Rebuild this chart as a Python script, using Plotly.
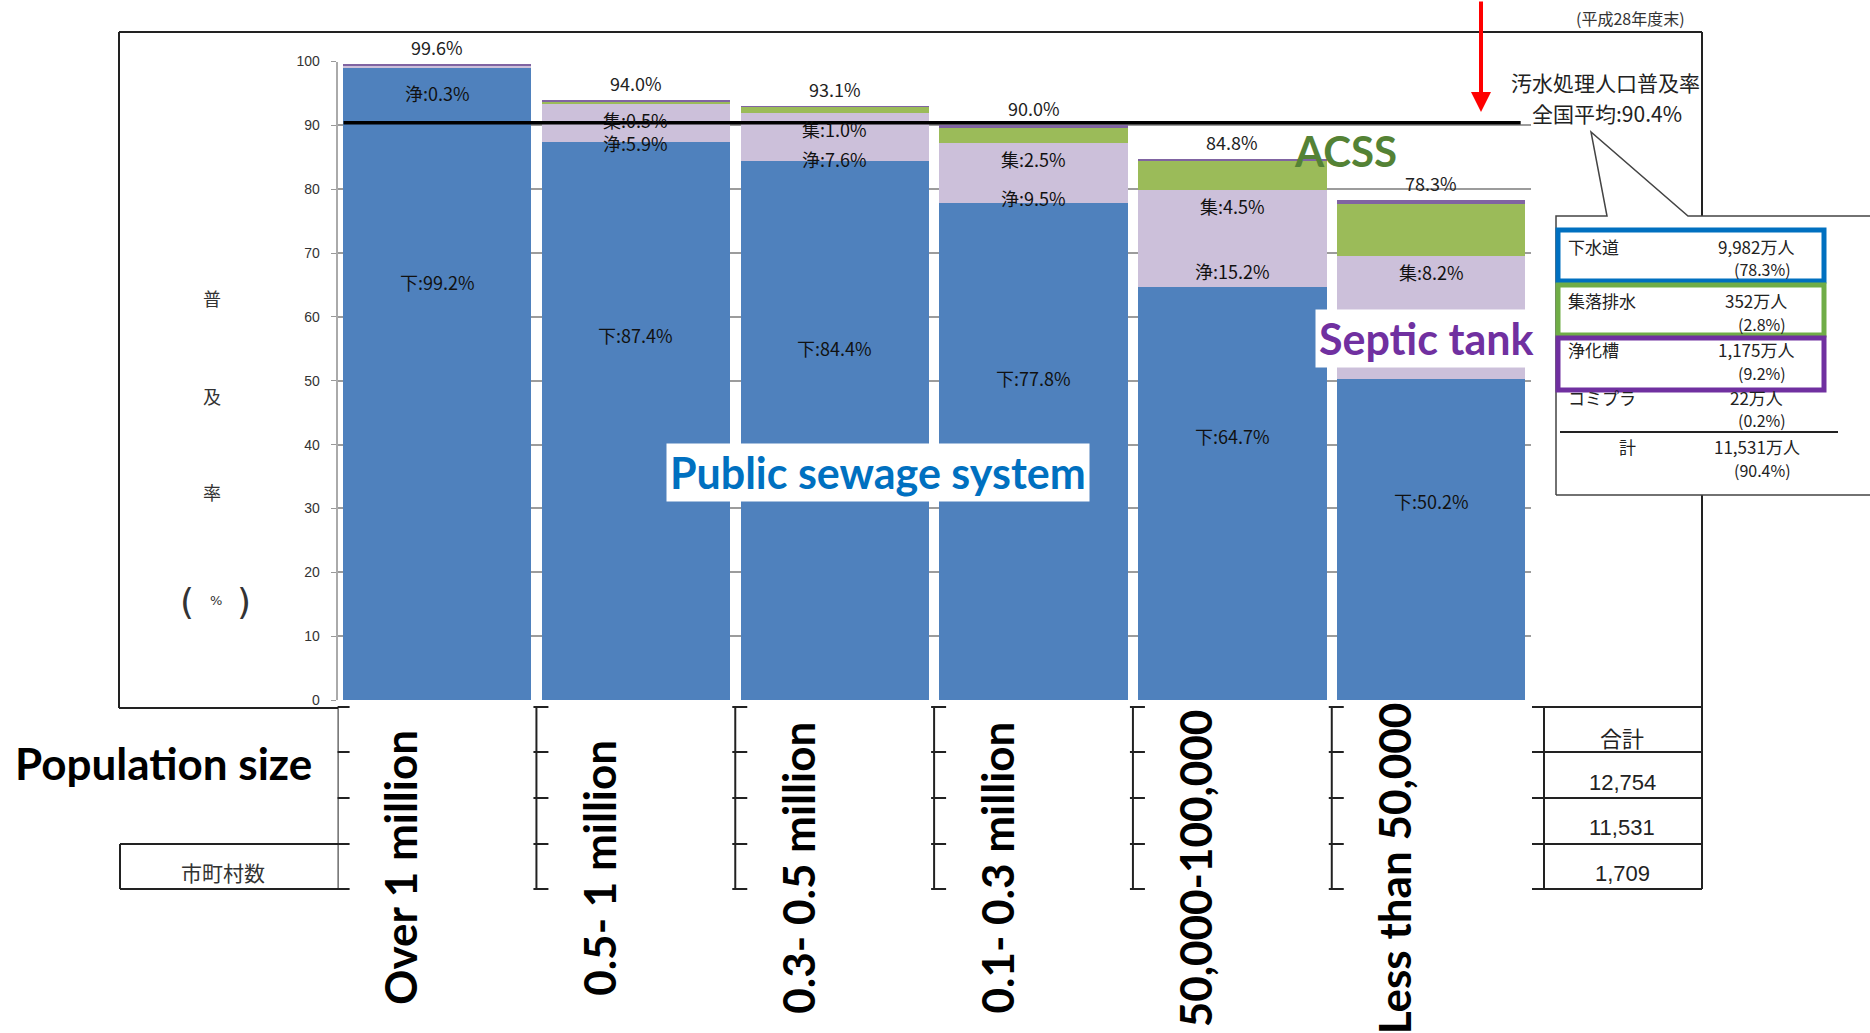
import plotly.graph_objects as go

W, H = 1870, 1033

# Coverage rate of wastewater treatment by municipal population size (%)
categories = ["Over 1 million", "0.5- 1 million", "0.3- 0.5 million",
              "0.1- 0.3 million", "50,000-100,000", "Less than 50,000"]
sewer = [99.2, 87.4, 84.4, 77.8, 64.7, 50.2]        # 下水道
septic = [0.3, 5.9, 7.6, 9.5, 15.2, 19.3]           # 浄化槽
acss = [0.0, 0.5, 1.0, 2.5, 4.5, 8.2]               # 農業集落排水
community = [0.1, 0.2, 0.1, 0.2, 0.4, 0.6]          # コミュニティプラント
total = [99.6, 94.0, 93.1, 90.0, 84.8, 78.3]
national_avg = 90.4

y_ticks = [0, 10, 20, 30, 40, 50, 60, 70, 80, 90, 100]

# National summary box
summary_names = ["下水道", "集落排水", "浄化槽", "コミプラ"]
summary_people = ["9,982万人", "352万人", "1,175万人", "22万人"]
summary_rates = ["(78.3%)", "(2.8%)", "(9.2%)", "(0.2%)"]
summary_total = ["計", "11,531万人", "(90.4%)"]

# Totals column of the table under the chart
table_header = "合計"
table_totals = ["12,754", "11,531", "1,709"]


def px(x):
    return x / W


def py(y):
    return 1 - y / H


JP = "Noto Sans CJK JP"
EN = "Lato"

fig = go.Figure()
series = [("下水道", sewer, "#4F81BD"), ("浄化槽", septic, "#CCC0DA"),
          ("農業集落排水", acss, "#9BBB59"), ("コミプラ", community, "#8064A2")]
for name, vals, color in series:
    fig.add_trace(go.Bar(x=categories, y=vals, name=name,
                         marker=dict(color=color, line=dict(width=0)),
                         hoverinfo="skip"))

ann = []


def text_at(x, y, text, size, color="#222", family=JP, xanchor="center"):
    ann.append(dict(x=px(x), y=py(y), xref="paper", yref="paper", text=text,
                    showarrow=False, xanchor=xanchor, yanchor="middle",
                    font=dict(family=family, size=size, color=color)))


# Segment and total labels on the bars
last = len(categories) - 1
for i, c in enumerate(categories):
    ann.append(dict(x=c, y=total[i], xref="x", yref="y", text=f"{total[i]:.1f}%",
                    showarrow=False, yanchor="bottom", yshift=2,
                    font=dict(family=JP, size=18, color="#222")))
    ann.append(dict(x=c, y=0.7 * sewer[i] - 4, xref="x", yref="y",
                    text=f"下:{sewer[i]:.1f}%", showarrow=False,
                    font=dict(family=JP, size=18, color="#111")))
    # the septic label of the smallest class sits under the "Septic tank" caption
    if i != last:
        if septic[i] >= 1:
            y_sep = sewer[i] + 0.3 * septic[i] - 2
        else:
            y_sep = total[i] - 4.5
        ann.append(dict(x=c, y=y_sep, xref="x", yref="y",
                        text=f"浄:{septic[i]:.1f}%", showarrow=False,
                        font=dict(family=JP, size=18, color="#111")))
    if acss[i] > 0:
        ann.append(dict(x=c, y=sewer[i] + septic[i] - 2.5, xref="x", yref="y",
                        text=f"集:{acss[i]:.1f}%", showarrow=False,
                        font=dict(family=JP, size=18, color="#111")))
    # rotated category names beneath the axis
    ann.append(dict(x=c, y=py(868), xref="x", yref="paper", text=c,
                    textangle=-90, showarrow=False, xshift=-37,
                    xanchor="center", yanchor="middle",
                    font=dict(family=EN, size=44, color="black", weight="bold")))

# Vertical axis title
text_at(212, 298, "普", 18, "#333")
text_at(212, 396, "及", 18, "#333")
text_at(212, 492, "率", 18, "#333")
text_at(187, 601, "(", 36, "#333", family="DejaVu Sans")
text_at(216, 600, "%", 13, "#333", family="DejaVu Sans")
text_at(244, 601, ")", 36, "#333", family="DejaVu Sans")

# National average notes
text_at(1630, 18, "(平成28年度末)", 16, "#333")
text_at(1509, 82, "汚水処理人口普及率", 21, "#222", xanchor="left")
text_at(1607, 113, f"全国平均:{national_avg}%", 21, "#222")

# Summary box contents
name_y = [246, 300, 350, 397]
rate_y = [269, 324, 373, 420]
for n, p, r, yn, yr in zip(summary_names, summary_people, summary_rates, name_y, rate_y):
    text_at(1566, yn, n, 17, "#222", xanchor="left")
    text_at(1756, yn, p, 17, "#222")
    text_at(1762, yr, r, 16, "#222")
text_at(1627, 447, summary_total[0], 17, "#222")
text_at(1757, 447, summary_total[1], 17, "#222")
text_at(1762, 470, summary_total[2], 16, "#222")

# Table captions
ann.append(dict(x=px(13), y=py(763), xref="paper", yref="paper", text="Population size",
                showarrow=False, xanchor="left", yanchor="middle",
                font=dict(family=EN, size=44, color="black", weight="bold")))
text_at(223, 872, "市町村数", 21, "#333")
text_at(1622, 737, table_header, 22, "#222")
for v, yy in zip(table_totals, [782, 827, 873]):
    text_at(1622, yy, v, 22, "#222", family="Liberation Sans")

# Highlighted labels
for label, x, y, size, color, bg in [("Public sewage system", 878, 472, 43, "#0070C0", "white"),
                                     ("ACSS", 1345, 151, 42, "#548235", None),
                                     ("Septic tank", 1426, 338, 43, "#7030A0", "white")]:
    d = dict(x=px(x), y=py(y), xref="paper", yref="paper", text=label,
             showarrow=False, xanchor="center", yanchor="middle", borderpad=3,
             font=dict(family=EN, size=size, color=color, weight="bold"))
    if bg:
        d["bgcolor"] = bg
    ann.append(d)

# Red arrow pointing at the national average line
ann.append(dict(x=px(1481), y=py(112), xref="paper", yref="paper", text="",
                showarrow=True, ax=0, ay=-112, arrowcolor="#FF0000",
                arrowwidth=4, arrowhead=2, arrowsize=1))

shapes = []


def line(x0, y0, x1, y1, color="#222", width=2):
    shapes.append(dict(type="line", xref="paper", yref="paper",
                       x0=px(x0), y0=py(y0), x1=px(x1), y1=py(y1),
                       line=dict(color=color, width=width)))


# Outer frame
line(119, 32, 1702, 32)
line(119, 32, 119, 708)
line(119, 708, 338, 708)
line(1702, 32, 1702, 216)
line(1702, 495, 1702, 889)
# 市町村数 cell
line(120, 844, 338, 844)
line(120, 889, 338, 889)
line(120, 844, 120, 889)

# Column separators of the table under each category
row_lines = [707, 752, 798, 844, 889]
for i in range(len(categories)):
    b = i - 0.5
    shapes.append(dict(type="line", xref="x", yref="paper", x0=b, x1=b,
                       y0=py(707), y1=py(889), line=dict(color="#222", width=2)))
    for t in row_lines:
        shapes.append(dict(type="line", xref="x", xsizemode="pixel", xanchor=b,
                           x0=-3, x1=12, yref="paper", y0=py(t), y1=py(t),
                           line=dict(color="#222", width=2)))
# Totals column
for t in row_lines:
    line(1532, t, 1702, t)
line(1544, 707, 1544, 889)

# National average line
shapes.append(dict(type="line", xref="x", yref="y", x0=-0.47, x1=5.45,
                   y0=national_avg, y1=national_avg,
                   line=dict(color="black", width=3.5)))

# Callout box
path = (f"M {px(1556)},{py(495)} L {px(1556)},{py(216)} L {px(1607)},{py(216)} "
        f"L {px(1591)},{py(132)} L {px(1688)},{py(216)} L {px(1875)},{py(216)} "
        f"M {px(1556)},{py(495)} L {px(1875)},{py(495)}")
shapes.append(dict(type="path", xref="paper", yref="paper", path=path,
                   line=dict(color="#444", width=1.5)))
line(1560, 432, 1838, 432, "#222", 1.8)
for (y0, y1), color in zip([(230, 281), (285, 335), (338, 390)],
                           ["#0070C0", "#70AD47", "#7030A0"]):
    shapes.append(dict(type="rect", xref="paper", yref="paper",
                       x0=px(1558), x1=px(1824), y0=py(y0), y1=py(y1),
                       line=dict(color=color, width=5)))

fig.update_layout(
    width=W, height=H, margin=dict(l=0, r=0, t=0, b=0),
    paper_bgcolor="white", plot_bgcolor="white",
    barmode="stack", bargap=0.053, showlegend=False,
    xaxis=dict(domain=[px(337.6), px(1530.6)], range=[-0.5, 5.5],
               showticklabels=False, showline=False, ticks="",
               showgrid=False, zeroline=False, fixedrange=True),
    yaxis=dict(domain=[py(700), py(61.5)], range=[0, 100], tickvals=y_ticks,
               showgrid=True, gridcolor="#9c9c9c", gridwidth=1.5,
               showline=True, linecolor="#aaaaaa", linewidth=2,
               ticks="outside", ticklen=5, tickcolor="#999999",
               ticklabelstandoff=8,
               tickfont=dict(family="Liberation Sans", size=14, color="#333"),
               zeroline=False, automargin=False, fixedrange=True),
    annotations=ann, shapes=shapes,
)

fig.write_html("out.html")
